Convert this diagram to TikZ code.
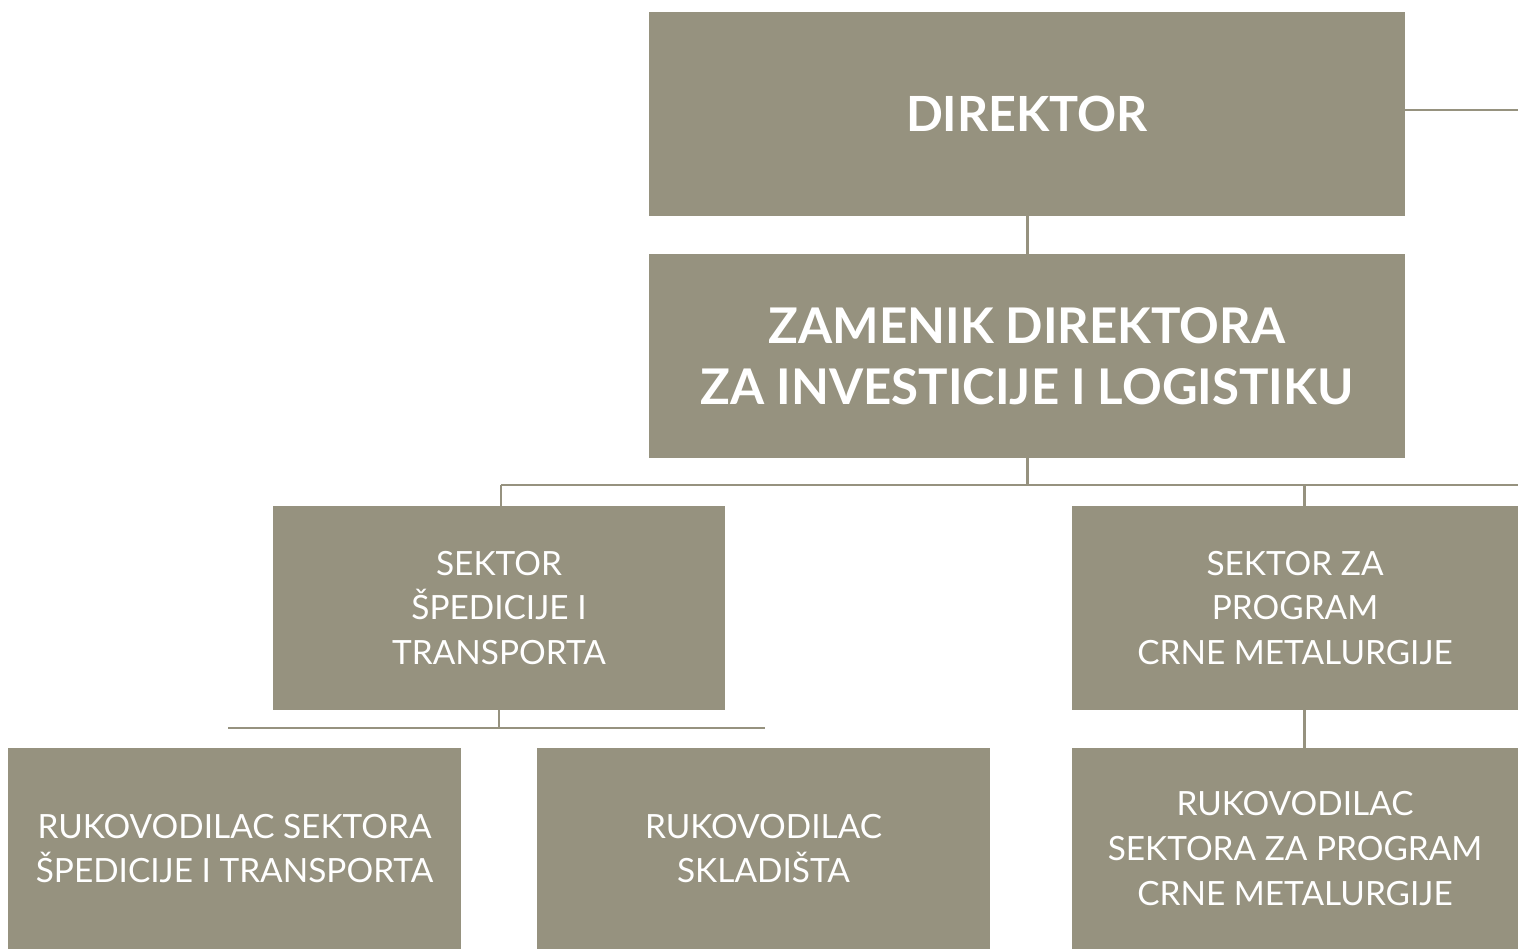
\documentclass[tikz,border=0pt]{standalone}
\usepackage{fontspec}
\setmainfont{Lato}
\usetikzlibrary{positioning}
\definecolor{boxgray}{RGB}{150,146,127}

\begin{document}
\begin{tikzpicture}[x=0.02cm,y=-0.02cm,main node/.style={rectangle,fill=boxgray,text=white,inner sep=0pt,align=center},line/.style={draw=boxgray,line width=1.7pt}]
    \useasboundingbox (0,0) rectangle (1518,949);

		\node[main node][minimum width=15.12cm,minimum height=4.08cm,font=\fontsize{27.6}{35}\selectfont\bfseries](1) at (1027,114){DIREKTOR};
		\node[main node][minimum width=15.12cm,minimum height=4.08cm,font=\fontsize{28}{35}\selectfont\bfseries](2) at (1027,356){ZAMENIK DIREKTORA\\ZA INVESTICIJE I LOGISTIKU};
		\node[main node][minimum width=9.06cm,minimum height=4.08cm,font=\fontsize{19}{25.5}\selectfont](3) at (499,608){SEKTOR\\ŠPEDICIJE I\\TRANSPORTA};
		\node[main node][minimum width=8.92cm,minimum height=4.08cm,font=\fontsize{19}{25.5}\selectfont](4) at (1295,608){SEKTOR ZA\\PROGRAM\\CRNE METALURGIJE};
		\node[main node][minimum width=9.06cm,minimum height=4.02cm,font=\fontsize{19}{25.5}\selectfont](5) at (234.5,848.5){RUKOVODILAC SEKTORA\\ŠPEDICIJE I TRANSPORTA};
		\node[main node][minimum width=9.06cm,minimum height=4.02cm,font=\fontsize{19}{25.5}\selectfont](6) at (763.5,848.5){RUKOVODILAC\\SKLADIŠTA};
		\node[main node][minimum width=8.92cm,minimum height=4.02cm,font=\fontsize{19}{25.5}\selectfont](7) at (1295,848.5){RUKOVODILAC\\SEKTORA ZA PROGRAM\\CRNE METALURGIJE};

		\coordinate (8) at (1518,110);
		\coordinate (9) at (501,485);
		\coordinate (10) at (1518,485);
		\coordinate (11) at (1304,485);
		\coordinate (12) at (228,728);
		\coordinate (13) at (765,728);

		\path [line] (1) edge (2);
		\path [line] (1.east |- 8) edge (8);
		\path [line] (2.south) edge (2.south |- 9);
		\path [line] (9) edge (10);
		\path [line] (9) edge (9 |- 3.north);
		\path [line] (11) edge (11 |- 4.north);
		\path [line] (3.south) edge (3.south |- 12);
		\path [line] (12) edge (13);
		\path [line] (11 |- 4.south) edge (11 |- 7.north);

	\end{tikzpicture}
\end{document}
